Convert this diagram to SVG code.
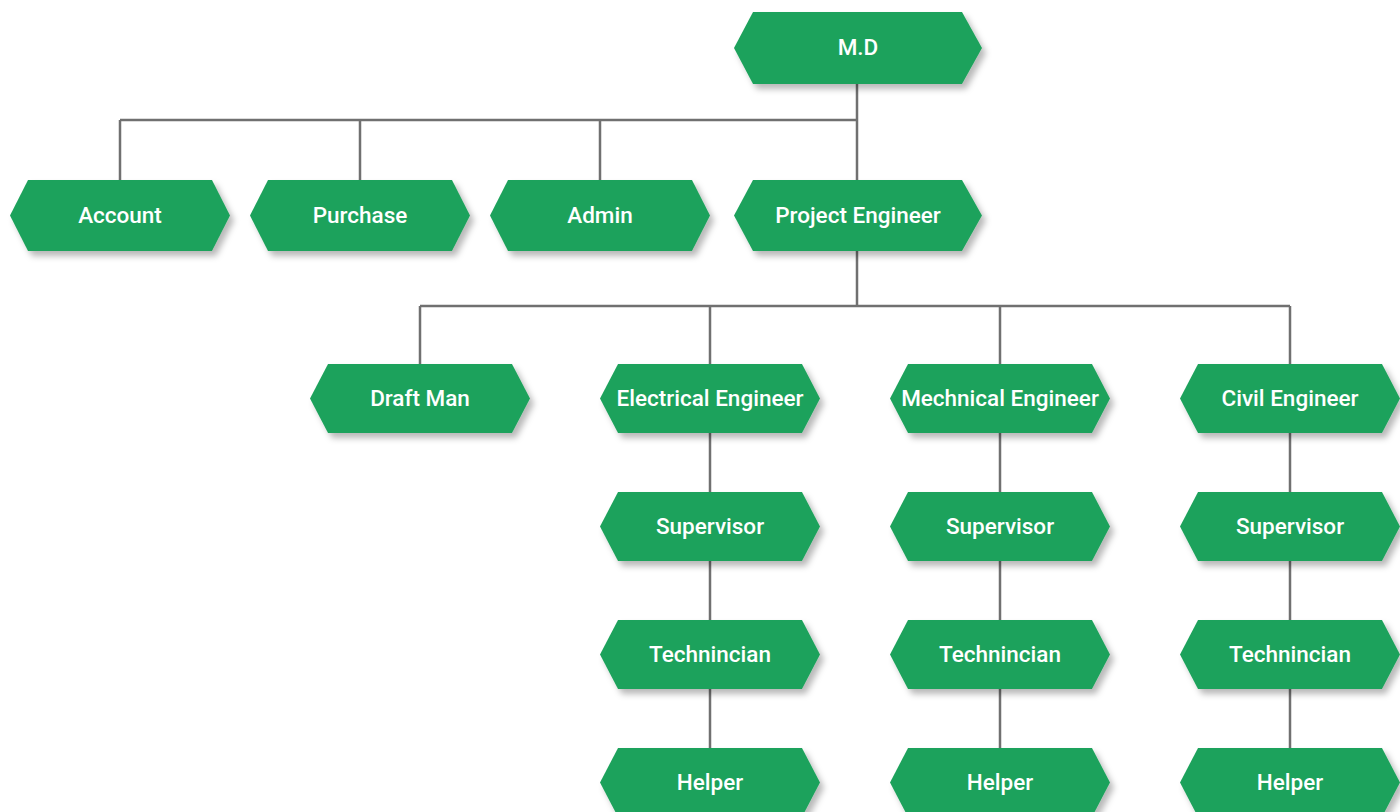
<svg xmlns="http://www.w3.org/2000/svg" width="1400" height="812" viewBox="0 0 1400 812">
<defs>
<filter id="sh" x="-10%" y="-20%" width="130%" height="160%">
<feDropShadow dx="4" dy="5" stdDeviation="3" flood-color="#000" flood-opacity="0.28"/>
</filter>
<polygon id="hexL" points="0,35.5 18,0 202,0 220,35.5 202,71 18,71"/>
<polygon id="hexS" points="0,34.5 18,0 202,0 220,34.5 202,69 18,69"/>
</defs>
<style>
.n{fill:#1fa25b;filter:url(#sh)}
.t{fill:#fff;font-family:Roboto,"Liberation Sans",sans-serif;font-weight:500;font-size:22.5px;text-anchor:middle;dominant-baseline:central}
.c{fill:none;stroke:#707070;stroke-width:2.5}
</style>
<rect width="1400" height="812" fill="#fff"/>
<g id="connectors" class="c">
<path d="M857,84 V120 M120,120 H857 M120,120 V180 M360,120 V180 M600,120 V180 M857,120 V180"/>
<path d="M857,251 V306 M420,306 H1290 M420,306 V364 M710,306 V364 M1000,306 V364 M1290,306 V364"/>
<path d="M710,433 V748 M1000,433 V748 M1290,433 V748"/>
</g>
<g id="n-md"><polygon class="n" points="734,48 753,12 962,12 982,48 962,84 753,84"/><text class="t" x="858" y="47">M.D</text></g>
<g id="n-account"><use href="#hexL" class="n" x="10" y="180"/><text class="t" x="120" y="214.5">Account</text></g>
<g id="n-purchase"><use href="#hexL" class="n" x="250" y="180"/><text class="t" x="360" y="214.5">Purchase</text></g>
<g id="n-admin"><use href="#hexL" class="n" x="490" y="180"/><text class="t" x="600" y="214.5">Admin</text></g>
<g id="n-pe"><polygon class="n" points="734,215.5 753,180 962,180 982,215.5 962,251 753,251"/><text class="t" x="858" y="214.5">Project Engineer</text></g>
<g id="n-draft"><use href="#hexS" class="n" x="310" y="364"/><text class="t" x="420" y="397.5">Draft Man</text></g>
<g id="n-ee"><use href="#hexS" class="n" x="600" y="364"/><text class="t" x="710" y="397.5">Electrical Engineer</text></g>
<g id="n-me"><use href="#hexS" class="n" x="890" y="364"/><text class="t" x="1000" y="397.5">Mechnical Engineer</text></g>
<g id="n-ce"><use href="#hexS" class="n" x="1180" y="364"/><text class="t" x="1290" y="397.5">Civil Engineer</text></g>
<g id="n-sup1"><use href="#hexS" class="n" x="600" y="492"/><text class="t" x="710" y="525.5">Supervisor</text></g>
<g id="n-sup2"><use href="#hexS" class="n" x="890" y="492"/><text class="t" x="1000" y="525.5">Supervisor</text></g>
<g id="n-sup3"><use href="#hexS" class="n" x="1180" y="492"/><text class="t" x="1290" y="525.5">Supervisor</text></g>
<g id="n-tech1"><use href="#hexS" class="n" x="600" y="620"/><text class="t" x="710" y="653.5">Technincian</text></g>
<g id="n-tech2"><use href="#hexS" class="n" x="890" y="620"/><text class="t" x="1000" y="653.5">Technincian</text></g>
<g id="n-tech3"><use href="#hexS" class="n" x="1180" y="620"/><text class="t" x="1290" y="653.5">Technincian</text></g>
<g id="n-help1"><use href="#hexS" class="n" x="600" y="748"/><text class="t" x="710" y="781.5">Helper</text></g>
<g id="n-help2"><use href="#hexS" class="n" x="890" y="748"/><text class="t" x="1000" y="781.5">Helper</text></g>
<g id="n-help3"><use href="#hexS" class="n" x="1180" y="748"/><text class="t" x="1290" y="781.5">Helper</text></g>
</svg>
